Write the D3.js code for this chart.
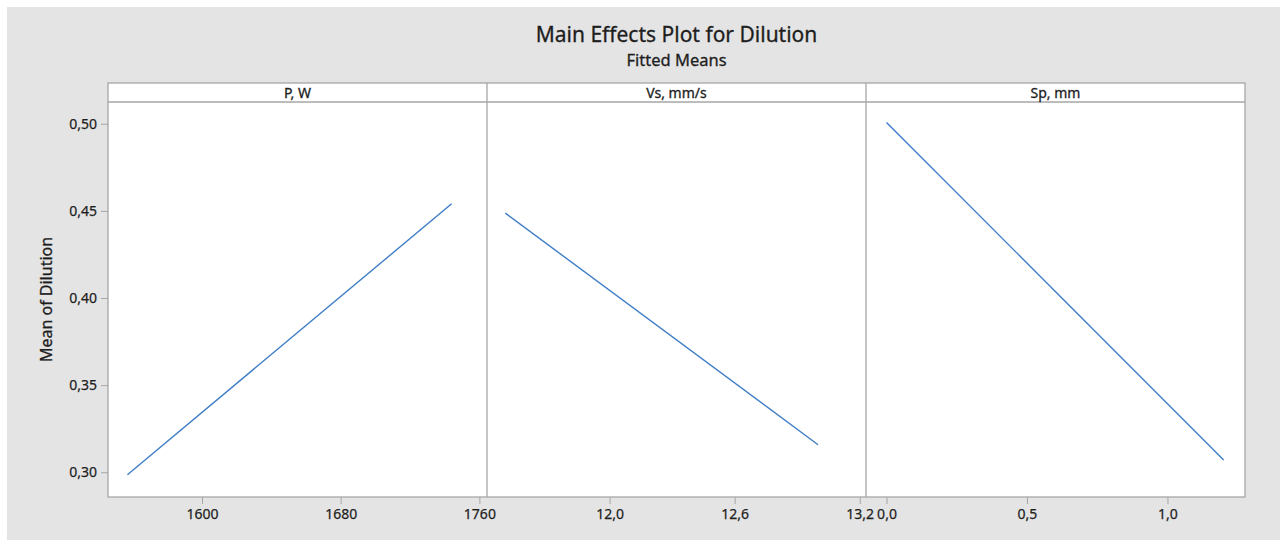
<!DOCTYPE html>
<html>
<head>
<meta charset="utf-8">
<script src="https://cdn.jsdelivr.net/npm/d3@7"></script>
<style>
  html, body { margin: 0; padding: 0; background: #fff; }
  svg { display: block; font-family: "Noto Sans", "Open Sans", sans-serif; }
</style>
</head>
<body>
<div id="chart"></div>
<script>
// factor panels
const factors = ["P, W", "Vs, mm/s", "Sp, mm"];
const levels = [[1557, 1744], [11.5, 13.0], [0.0, 1.2]];
const fittedMeans = [[0.2986, 0.4541], [0.4487, 0.3158], [0.5007, 0.3071]];
const xDomains = [[1545.8, 1764.4], [11.412, 13.23], [-0.073, 1.276]];
const xTicks = [[1600, 1680, 1760], [12.0, 12.6, 13.2], [0.0, 0.5, 1.0]];
const xTickLabels = [["1600", "1680", "1760"], ["12,0", "12,6", "13,2"], ["0,0", "0,5", "1,0"]];

// shared y axis
const yDomain = [0.2858, 0.5125];
const yTicks = [0.30, 0.35, 0.40, 0.45, 0.50];
const yTickLabels = ["0,30", "0,35", "0,40", "0,45", "0,50"];

const width = 1280, height = 540;
const plotLeft = 108, plotRight = 1245, headTop = 83, plotTop = 102, plotBottom = 497;
const panelW = (plotRight - plotLeft) / factors.length;
const ink = '#1e1e1e';

const svg = d3.select('#chart')
  .append('svg')
  .attr('width', width)
  .attr('height', height);

svg.append('rect')
  .attr('x', 7).attr('y', 7)
  .attr('width', width - 7).attr('height', height - 7)
  .attr('fill', '#e4e4e4');

// slightly heavier text, the original font is a bit darker
function inked(sel, w) {
  sel.attr('fill', ink).attr('stroke', ink).attr('stroke-width', w);
}

// title
svg.append('text')
  .attr('x', (plotLeft + plotRight) / 2).attr('y', 42)
  .attr('text-anchor', 'middle')
  .style('font-size', '21px')
  .call(inked, 0.3)
  .text('Main Effects Plot for Dilution');
svg.append('text')
  .attr('x', (plotLeft + plotRight) / 2).attr('y', 66)
  .attr('text-anchor', 'middle')
  .style('font-size', '16.5px')
  .call(inked, 0.3)
  .text('Fitted Means');

// plot background incl. headers
svg.append('rect')
  .attr('x', plotLeft).attr('y', headTop)
  .attr('width', plotRight - plotLeft).attr('height', plotBottom - headTop)
  .attr('fill', '#fff')
  .attr('stroke', '#a6a6a6')
  .attr('stroke-width', 1.3);

svg.append('line')
  .attr('x1', plotLeft).attr('x2', plotRight)
  .attr('y1', plotTop).attr('y2', plotTop)
  .attr('stroke', '#a6a6a6')
  .attr('stroke-width', 1.3);

const y = d3.scaleLinear().domain(yDomain).range([plotBottom, plotTop]);

const yAxis = svg.append('g')
  .attr('transform', 'translate(' + plotLeft + ',0)')
  .call(d3.axisLeft(y)
    .tickValues(yTicks)
    .tickFormat((d, i) => yTickLabels[i])
    .tickSize(7)
    .tickPadding(4));
yAxis.select('.domain').remove();
yAxis.selectAll('line').attr('stroke', '#a6a6a6');
yAxis.selectAll('text')
  .call(inked, 0.25)
  .style('font-size', '14px')
  .style('font-family', '"Noto Sans", sans-serif');

svg.append('text')
  .attr('transform', 'translate(52,' + (plotTop + plotBottom) / 2 + ') rotate(-90)')
  .attr('text-anchor', 'middle')
  .style('font-size', '16px')
  .call(inked, 0.3)
  .text('Mean of Dilution');

factors.forEach((name, k) => {
  const x0 = plotLeft + k * panelW;
  const x = d3.scaleLinear().domain(xDomains[k]).range([x0, x0 + panelW]);

  if (k > 0) {
    svg.append('line')
      .attr('x1', x0).attr('x2', x0)
      .attr('y1', headTop).attr('y2', plotBottom)
      .attr('stroke', '#a6a6a6')
      .attr('stroke-width', 1.3);
  }

  svg.append('text')
    .attr('x', x0 + panelW / 2).attr('y', 98)
    .attr('text-anchor', 'middle')
    .style('font-size', '14px')
    .call(inked, 0.3)
    .text(name);

  const xAxis = svg.append('g')
    .attr('transform', 'translate(0,' + plotBottom + ')')
    .call(d3.axisBottom(x)
      .tickValues(xTicks[k])
      .tickFormat((d, i) => xTickLabels[k][i])
      .tickSize(7)
      .tickPadding(5));
  xAxis.select('.domain').remove();
  xAxis.selectAll('line').attr('stroke', '#a6a6a6');
  xAxis.selectAll('text')
    .call(inked, 0.25)
    .style('font-size', '14px')
    .style('font-family', '"Noto Sans", sans-serif');

  const pts = levels[k].map((v, i) => [v, fittedMeans[k][i]]);
  svg.append('path')
    .datum(pts)
    .attr('fill', 'none')
    .attr('stroke', '#3f7dc6')
    .attr('stroke-width', 1.4)
    .attr('d', d3.line().x(d => x(d[0])).y(d => y(d[1])));
});
</script>
</body>
</html>
